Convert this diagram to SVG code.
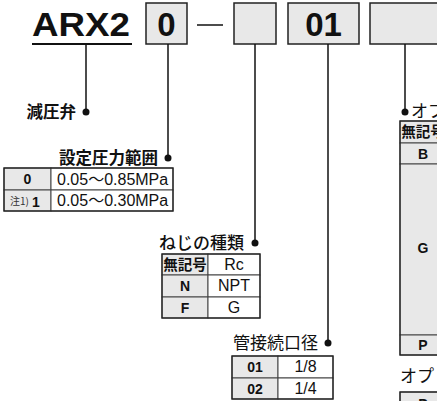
<svg xmlns="http://www.w3.org/2000/svg" width="437" height="401" viewBox="0 0 437 401">
<style>
.box{fill:#e8e8e8;stroke:#222;stroke-width:1.5}
.code{fill:#e8e8e8;stroke:#444;stroke-width:1}
.val{fill:#fff;stroke:#444;stroke-width:1}
.frame{fill:none;stroke:#222;stroke-width:1.3}
.ln{stroke:#111;stroke-width:1.5;fill:none}
.dot{fill:#111}
.big{font-family:"Liberation Sans",Arial,sans-serif;font-weight:bold;font-size:33px;fill:#111}
.lbl{font-family:"Noto Sans CJK JP",sans-serif;font-size:17px;fill:#111}
.lblb{font-family:"Noto Sans CJK JP",sans-serif;font-size:16.5px;font-weight:bold;fill:#111}
.c{font-family:"Liberation Sans",Arial,sans-serif;font-weight:bold;font-size:14px;fill:#111;text-anchor:middle}
.cj{font-family:"Noto Sans CJK JP",sans-serif;font-weight:bold;font-size:14.5px;fill:#111;text-anchor:middle}
.v{font-family:"Liberation Sans",Arial,"Noto Sans CJK JP",sans-serif;font-size:16px;fill:#111}
.vm{font-family:"Liberation Sans",Arial,sans-serif;font-size:16px;fill:#111;text-anchor:middle}
</style>
<g id="code">
<text class="big" x="32" y="36" textLength="98" lengthAdjust="spacingAndGlyphs">ARX2</text>
<rect x="32" y="43" width="100" height="2" fill="#111"/>
<rect class="box" x="146" y="3" width="41" height="41"/>
<text class="big" x="166.5" y="36" text-anchor="middle">0</text>
<line class="ln" x1="197" y1="25" x2="223" y2="25"/>
<rect class="box" x="234" y="3" width="42" height="41"/>
<rect class="box" x="288" y="3" width="71" height="41"/>
<text class="big" x="323.5" y="36" text-anchor="middle">01</text>
<rect class="box" x="370" y="3" width="80" height="41"/>
</g>
<g id="connectors">
<line class="ln" x1="86" y1="44" x2="86" y2="112"/>
<circle class="dot" cx="86" cy="112" r="3.5"/>
<line class="ln" x1="168" y1="44" x2="168" y2="158"/>
<circle class="dot" cx="168" cy="158" r="3.5"/>
<line class="ln" x1="255" y1="44" x2="255" y2="243"/>
<circle class="dot" cx="255" cy="243" r="3.5"/>
<line class="ln" x1="328" y1="44" x2="328" y2="343"/>
<circle class="dot" cx="328" cy="343" r="3.5"/>
<line class="ln" x1="405" y1="44" x2="405" y2="112"/>
<circle class="dot" cx="405" cy="112" r="3.5"/>
</g>
<g id="valve">
<text class="lblb" x="76" y="118" text-anchor="end">減圧弁</text>
</g>
<g id="pressure">
<text class="lblb" x="158" y="164" text-anchor="end">設定圧力範囲</text>
<rect class="code" x="4" y="168" width="47" height="22"/>
<rect class="val" x="51" y="168" width="122" height="22"/>
<rect class="code" x="4" y="190" width="47" height="21"/>
<rect class="val" x="51" y="190" width="122" height="21"/>
<rect class="frame" x="4" y="168" width="169" height="43"/>
<text class="c" x="27.5" y="184">0</text>
<text class="v" x="57" y="185">0.05〜0.85MPa</text>
<text font-family="Noto Sans CJK JP,sans-serif" font-size="10" fill="#333" x="10" y="205">注1)</text>
<text class="c" x="36" y="207" font-size="15">1</text>
<text class="v" x="57" y="206">0.05〜0.30MPa</text>
</g>
<g id="thread">
<text class="lbl" x="244" y="249" text-anchor="end" font-weight="500">ねじの種類</text>
<rect class="code" x="162" y="254" width="46" height="21"/>
<rect class="val" x="208" y="254" width="52" height="21"/>
<rect class="code" x="162" y="275" width="46" height="22"/>
<rect class="val" x="208" y="275" width="52" height="22"/>
<rect class="code" x="162" y="297" width="46" height="21"/>
<rect class="val" x="208" y="297" width="52" height="21"/>
<rect class="frame" x="162" y="254" width="98" height="64"/>
<text class="cj" x="185" y="270">無記号</text>
<text class="vm" x="234" y="270">Rc</text>
<text class="c" x="185" y="291">N</text>
<text class="vm" x="234" y="291">NPT</text>
<text class="c" x="185" y="313">F</text>
<text class="vm" x="234" y="313">G</text>
</g>
<g id="port">
<text class="lbl" x="318" y="349" text-anchor="end">管接続口径</text>
<rect class="code" x="232" y="356" width="46" height="22"/>
<rect class="val" x="278" y="356" width="55" height="22"/>
<rect class="code" x="232" y="378" width="46" height="21"/>
<rect class="val" x="278" y="378" width="55" height="21"/>
<rect class="frame" x="232" y="356" width="101" height="43"/>
<text class="c" x="255" y="372">01</text>
<text class="vm" x="305.5" y="372">1/8</text>
<text class="c" x="255" y="394">02</text>
<text class="vm" x="305.5" y="394">1/4</text>
</g>
<g id="option">
<text class="lbl" x="411" y="117" font-size="16">オプ</text>
<rect class="code" x="400" y="121" width="46" height="22"/>
<rect class="code" x="400" y="143" width="46" height="21"/>
<rect class="code" x="400" y="164" width="46" height="171"/>
<rect class="code" x="400" y="335" width="46" height="20"/>
<rect class="frame" x="400" y="121" width="46" height="234"/>
<text class="cj" x="423" y="137">無記号</text>
<text class="c" x="423" y="159" font-size="15">B</text>
<text class="c" x="423" y="253" font-size="15">G</text>
<text class="c" x="423" y="350" font-size="15">P</text>
</g>
<g id="option2">
<text class="lbl" x="400" y="382">オプ</text>
<rect class="code" x="400" y="392" width="46" height="21"/>
<rect class="frame" x="400" y="392" width="46" height="21"/>
<text class="c" x="423" y="409" font-size="15">P</text>
</g>
</svg>
